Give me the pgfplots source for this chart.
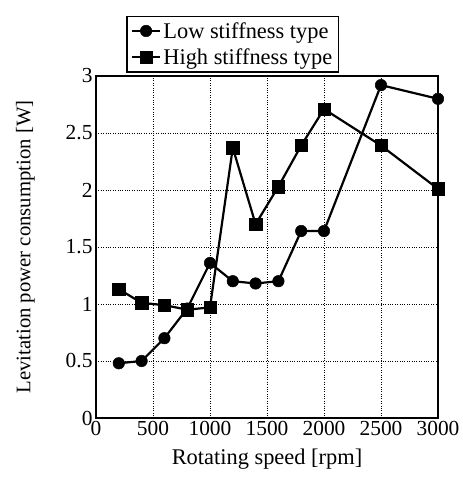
\documentclass[border=0pt]{standalone}
\usepackage{fontspec}
\setmainfont{Liberation Serif}
\usepackage{pgfplots}
\pgfplotsset{compat=1.18}
\begin{document}
\begin{tikzpicture}
\begin{axis}[
  scale only axis,
  width=342bp, height=342bp,
  xmin=0, xmax=3000, ymin=0, ymax=3,
  xtick={0,500,...,3000}, ytick={0,0.5,...,3},
  yticklabels={0,0.5,1,1.5,2,2.5,3},
  scaled x ticks=false,
  /pgf/number format/assume math mode=true,
  /pgf/number format/1000 sep={},
  font=\fontsize{21.5}{25}\selectfont,
  tick label style={font=\fontsize{21.5}{25}\selectfont},
  major tick length=0pt,
  grid=major,
  grid style={black, dotted, line width=0.6pt},
  axis line style={line width=1.5pt},
  xlabel={Rotating speed [rpm]},
  ylabel={Levitation power consumption [W]},
  xlabel style={yshift=-6bp, font=\fontsize{22.5}{26}\selectfont},
  ylabel style={yshift=24bp, font=\fontsize{20.8}{24}\selectfont},
  legend style={at={(0.088,1.01)}, anchor=south west, draw=black, line width=1.5pt,
    font=\fontsize{22.5}{26}\selectfont, inner xsep=4pt, inner ysep=4pt, row sep=5pt, cells={anchor=west}},
  legend image code/.code={
    \draw[mark repeat=2,mark phase=2,#1] plot coordinates {(0cm,0cm) (0.5cm,0cm) (1.0cm,0cm)};
  },
]
\addplot[black, line width=2.2pt, mark=*, mark size=5.8pt, mark options={solid, line width=0.5pt}]
coordinates {(200,0.48) (400,0.50) (600,0.70) (800,0.96) (1000,1.36) (1200,1.20) (1400,1.18) (1600,1.20) (1800,1.64) (2000,1.64) (2500,2.92) (3000,2.80)};
\addlegendentry{Low stiffness type}
\addplot[black, line width=2.2pt, mark=square*, mark size=6.2pt, mark options={solid, line width=0.5pt}]
coordinates {(200,1.13) (400,1.01) (600,0.99) (800,0.95) (1000,0.97) (1200,2.37) (1400,1.70) (1600,2.03) (1800,2.39) (2000,2.71) (2500,2.39) (3000,2.01)};
\addlegendentry{High stiffness type}
\end{axis}
\pgfresetboundingbox
\path (current axis.south west) ++(-96bp,-63bp) rectangle ++(463bp,481bp);
\end{tikzpicture}
\end{document}
